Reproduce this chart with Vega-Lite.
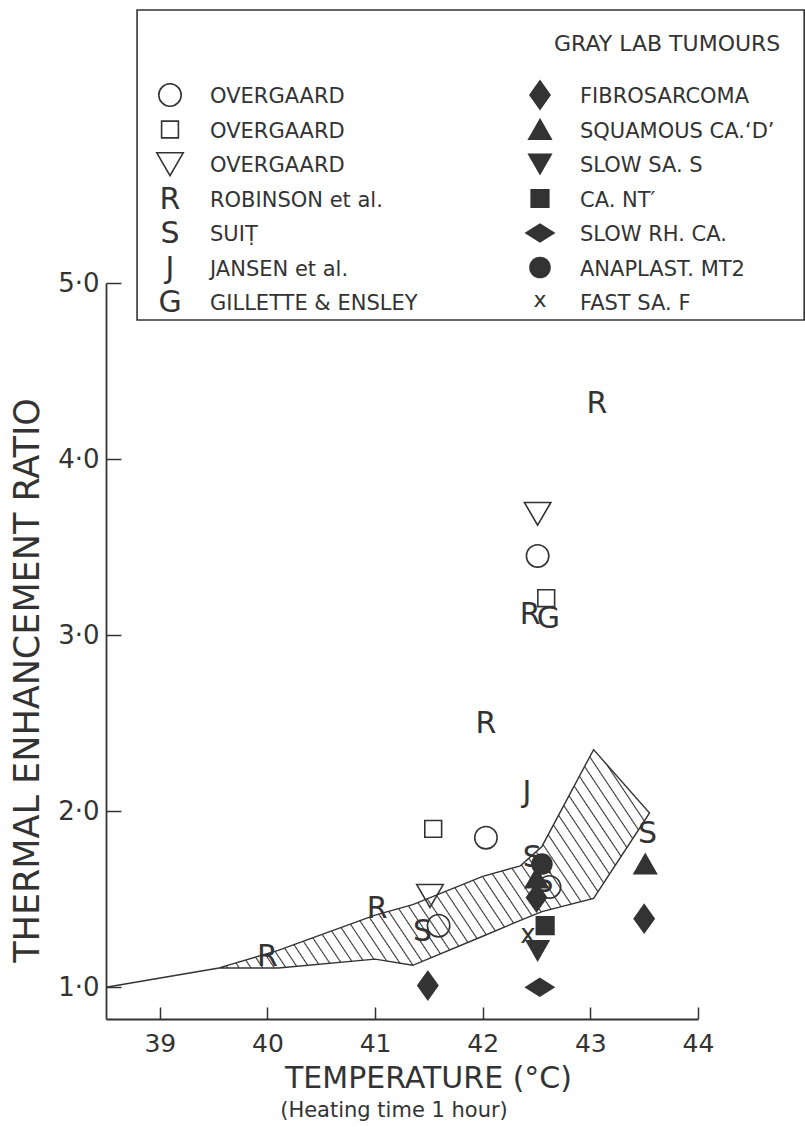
{
  "$schema": "https://vega.github.io/schema/vega-lite/v6.json",
  "width": 592,
  "height": 736,
  "autosize": {"type": "none"},
  "padding": {"left": 106, "top": 283, "right": 107, "bottom": 108},
  "background": "white",
  "config": {
    "view": {"stroke": null},
    "font": "DejaVu Sans",
    "axis": {
      "grid": false,
      "domainColor": "#333",
      "domainWidth": 1.8,
      "tickColor": "#333",
      "tickWidth": 1.5,
      "labelColor": "#333",
      "titleColor": "#333",
      "labelFont": "DejaVu Sans",
      "titleFont": "DejaVu Sans",
      "titleFontWeight": "normal",
      "labelFlush": false
    },
    "text": {"font": "DejaVu Sans", "color": "#333"}
  },
  "title": {
    "text": "(Heating time 1 hour)",
    "orient": "bottom",
    "anchor": "middle",
    "fontSize": 21,
    "fontWeight": "normal",
    "font": "DejaVu Sans",
    "color": "#333",
    "offset": 7,
    "dx": -8
  },
  "datasets": {
    "band": [
      {"t": 38.5, "lo": 1.0, "hi": 1.0},
      {"t": 39.55, "lo": 1.11, "hi": 1.11},
      {"t": 40.1, "lo": 1.11, "hi": 1.21},
      {"t": 41.0, "lo": 1.16, "hi": 1.41},
      {"t": 41.35, "lo": 1.125, "hi": 1.47},
      {"t": 42.0, "lo": 1.29, "hi": 1.63},
      {"t": 42.35, "lo": 1.38, "hi": 1.69},
      {"t": 42.55, "lo": 1.43, "hi": 1.8},
      {"t": 43.03, "lo": 1.505, "hi": 2.35},
      {"t": 43.55, "lo": 1.99, "hi": 1.99}
    ],
    "obs": [
      {"t": 42.51, "ter": 3.69, "marker": "ov_tri"},
      {"t": 41.51, "ter": 1.52, "marker": "ov_tri"},
      {"t": 42.51, "ter": 3.45, "marker": "ov_circle"},
      {"t": 42.03, "ter": 1.85, "marker": "ov_circle"},
      {"t": 41.59, "ter": 1.35, "marker": "ov_circle"},
      {"t": 42.62, "ter": 1.57, "marker": "ov_circle"},
      {"t": 42.59, "ter": 3.21, "marker": "ov_square"},
      {"t": 41.54, "ter": 1.9, "marker": "ov_square"},
      {"t": 40.0, "ter": 1.18, "marker": "R"},
      {"t": 41.02, "ter": 1.45, "marker": "R"},
      {"t": 42.03, "ter": 2.5, "marker": "R"},
      {"t": 42.44, "ter": 3.12, "marker": "R"},
      {"t": 43.06, "ter": 4.32, "marker": "R"},
      {"t": 41.44, "ter": 1.32, "marker": "S"},
      {"t": 42.46, "ter": 1.74, "marker": "S"},
      {"t": 42.57, "ter": 1.6, "marker": "S"},
      {"t": 43.53, "ter": 1.875, "marker": "S"},
      {"t": 42.41, "ter": 2.11, "marker": "J"},
      {"t": 42.61, "ter": 3.1, "marker": "G"},
      {"t": 41.49, "ter": 1.01, "marker": "fibro"},
      {"t": 42.5, "ter": 1.51, "marker": "fibro"},
      {"t": 43.5, "ter": 1.39, "marker": "fibro"},
      {"t": 43.51, "ter": 1.7, "marker": "squam"},
      {"t": 42.5, "ter": 1.62, "marker": "squam"},
      {"t": 42.51, "ter": 1.21, "marker": "slowsa"},
      {"t": 42.58, "ter": 1.35, "marker": "cant"},
      {"t": 42.53, "ter": 1.0, "marker": "slowrh"},
      {"t": 42.55, "ter": 1.7, "marker": "anaplast"},
      {"t": 42.42, "ter": 1.28, "marker": "x"}
    ],
    "legend": [
      {"col": 1, "row": 0, "marker": "header", "label": "GRAY LAB TUMOURS"},
      {"col": 0, "row": 1, "marker": "ov_circle", "label": "OVERGAARD"},
      {"col": 0, "row": 2, "marker": "ov_square", "label": "OVERGAARD"},
      {"col": 0, "row": 3, "marker": "ov_tri", "label": "OVERGAARD"},
      {"col": 0, "row": 4, "marker": "R", "label": "ROBINSON et al."},
      {"col": 0, "row": 5, "marker": "S", "label": "SUIṬ"},
      {"col": 0, "row": 6, "marker": "J", "label": "JANSEN et al."},
      {"col": 0, "row": 7, "marker": "G", "label": "GILLETTE & ENSLEY"},
      {"col": 1, "row": 1, "marker": "fibro", "label": "FIBROSARCOMA"},
      {"col": 1, "row": 2, "marker": "squam", "label": "SQUAMOUS CA.‘D’"},
      {"col": 1, "row": 3, "marker": "slowsa", "label": "SLOW SA. S"},
      {"col": 1, "row": 4, "marker": "cant", "label": "CA. NT′"},
      {"col": 1, "row": 5, "marker": "slowrh", "label": "SLOW RH. CA."},
      {"col": 1, "row": 6, "marker": "anaplast", "label": "ANAPLAST. MT2"},
      {"col": 1, "row": 7, "marker": "x", "label": "FAST SA. F"}
    ]
  },
  "layer": [
    {
      "layer": [
        {
          "data": {"name": "band"},
          "mark": {
            "type": "area",
            "interpolate": "linear",
            "stroke": "#333",
            "strokeWidth": 1.4,
            "fill": {
              "gradient": "linear",
              "x1": 0, "y1": 1, "x2": 1.19, "y2": 0.653,
              "stops": [
                {"offset": 0, "color": "white"},
                {"offset": 0.0065, "color": "white"}, {"offset": 0.0083, "color": "#333"}, {"offset": 0.0101, "color": "white"},
                {"offset": 0.0232, "color": "white"}, {"offset": 0.025, "color": "#333"}, {"offset": 0.0268, "color": "white"},
                {"offset": 0.0399, "color": "white"}, {"offset": 0.0417, "color": "#333"}, {"offset": 0.0435, "color": "white"},
                {"offset": 0.0565, "color": "white"}, {"offset": 0.0583, "color": "#333"}, {"offset": 0.0601, "color": "white"},
                {"offset": 0.0732, "color": "white"}, {"offset": 0.075, "color": "#333"}, {"offset": 0.0768, "color": "white"},
                {"offset": 0.0899, "color": "white"}, {"offset": 0.0917, "color": "#333"}, {"offset": 0.0935, "color": "white"},
                {"offset": 0.1065, "color": "white"}, {"offset": 0.1083, "color": "#333"}, {"offset": 0.1101, "color": "white"},
                {"offset": 0.1232, "color": "white"}, {"offset": 0.125, "color": "#333"}, {"offset": 0.1268, "color": "white"},
                {"offset": 0.1399, "color": "white"}, {"offset": 0.1417, "color": "#333"}, {"offset": 0.1435, "color": "white"},
                {"offset": 0.1565, "color": "white"}, {"offset": 0.1583, "color": "#333"}, {"offset": 0.1601, "color": "white"},
                {"offset": 0.1732, "color": "white"}, {"offset": 0.175, "color": "#333"}, {"offset": 0.1768, "color": "white"},
                {"offset": 0.1899, "color": "white"}, {"offset": 0.1917, "color": "#333"}, {"offset": 0.1935, "color": "white"},
                {"offset": 0.2065, "color": "white"}, {"offset": 0.2083, "color": "#333"}, {"offset": 0.2101, "color": "white"},
                {"offset": 0.2232, "color": "white"}, {"offset": 0.225, "color": "#333"}, {"offset": 0.2268, "color": "white"},
                {"offset": 0.2399, "color": "white"}, {"offset": 0.2417, "color": "#333"}, {"offset": 0.2435, "color": "white"},
                {"offset": 0.2565, "color": "white"}, {"offset": 0.2583, "color": "#333"}, {"offset": 0.2601, "color": "white"},
                {"offset": 0.2732, "color": "white"}, {"offset": 0.275, "color": "#333"}, {"offset": 0.2768, "color": "white"},
                {"offset": 0.2899, "color": "white"}, {"offset": 0.2917, "color": "#333"}, {"offset": 0.2935, "color": "white"},
                {"offset": 0.3065, "color": "white"}, {"offset": 0.3083, "color": "#333"}, {"offset": 0.3101, "color": "white"},
                {"offset": 0.3232, "color": "white"}, {"offset": 0.325, "color": "#333"}, {"offset": 0.3268, "color": "white"},
                {"offset": 0.3399, "color": "white"}, {"offset": 0.3417, "color": "#333"}, {"offset": 0.3435, "color": "white"},
                {"offset": 0.3565, "color": "white"}, {"offset": 0.3583, "color": "#333"}, {"offset": 0.3601, "color": "white"},
                {"offset": 0.3732, "color": "white"}, {"offset": 0.375, "color": "#333"}, {"offset": 0.3768, "color": "white"},
                {"offset": 0.3899, "color": "white"}, {"offset": 0.3917, "color": "#333"}, {"offset": 0.3935, "color": "white"},
                {"offset": 0.4065, "color": "white"}, {"offset": 0.4083, "color": "#333"}, {"offset": 0.4101, "color": "white"},
                {"offset": 0.4232, "color": "white"}, {"offset": 0.425, "color": "#333"}, {"offset": 0.4268, "color": "white"},
                {"offset": 0.4399, "color": "white"}, {"offset": 0.4417, "color": "#333"}, {"offset": 0.4435, "color": "white"},
                {"offset": 0.4565, "color": "white"}, {"offset": 0.4583, "color": "#333"}, {"offset": 0.4601, "color": "white"},
                {"offset": 0.4732, "color": "white"}, {"offset": 0.475, "color": "#333"}, {"offset": 0.4768, "color": "white"},
                {"offset": 0.4899, "color": "white"}, {"offset": 0.4917, "color": "#333"}, {"offset": 0.4935, "color": "white"},
                {"offset": 0.5065, "color": "white"}, {"offset": 0.5083, "color": "#333"}, {"offset": 0.5101, "color": "white"},
                {"offset": 0.5232, "color": "white"}, {"offset": 0.525, "color": "#333"}, {"offset": 0.5268, "color": "white"},
                {"offset": 0.5399, "color": "white"}, {"offset": 0.5417, "color": "#333"}, {"offset": 0.5435, "color": "white"},
                {"offset": 0.5565, "color": "white"}, {"offset": 0.5583, "color": "#333"}, {"offset": 0.5601, "color": "white"},
                {"offset": 0.5732, "color": "white"}, {"offset": 0.575, "color": "#333"}, {"offset": 0.5768, "color": "white"},
                {"offset": 0.5899, "color": "white"}, {"offset": 0.5917, "color": "#333"}, {"offset": 0.5935, "color": "white"},
                {"offset": 0.6065, "color": "white"}, {"offset": 0.6083, "color": "#333"}, {"offset": 0.6101, "color": "white"},
                {"offset": 0.6232, "color": "white"}, {"offset": 0.625, "color": "#333"}, {"offset": 0.6268, "color": "white"},
                {"offset": 0.6399, "color": "white"}, {"offset": 0.6417, "color": "#333"}, {"offset": 0.6435, "color": "white"},
                {"offset": 0.6565, "color": "white"}, {"offset": 0.6583, "color": "#333"}, {"offset": 0.6601, "color": "white"},
                {"offset": 0.6732, "color": "white"}, {"offset": 0.675, "color": "#333"}, {"offset": 0.6768, "color": "white"},
                {"offset": 0.6899, "color": "white"}, {"offset": 0.6917, "color": "#333"}, {"offset": 0.6935, "color": "white"},
                {"offset": 0.7065, "color": "white"}, {"offset": 0.7083, "color": "#333"}, {"offset": 0.7101, "color": "white"},
                {"offset": 0.7232, "color": "white"}, {"offset": 0.725, "color": "#333"}, {"offset": 0.7268, "color": "white"},
                {"offset": 0.7399, "color": "white"}, {"offset": 0.7417, "color": "#333"}, {"offset": 0.7435, "color": "white"},
                {"offset": 0.7565, "color": "white"}, {"offset": 0.7583, "color": "#333"}, {"offset": 0.7601, "color": "white"},
                {"offset": 0.7732, "color": "white"}, {"offset": 0.775, "color": "#333"}, {"offset": 0.7768, "color": "white"},
                {"offset": 0.7899, "color": "white"}, {"offset": 0.7917, "color": "#333"}, {"offset": 0.7935, "color": "white"},
                {"offset": 0.8065, "color": "white"}, {"offset": 0.8083, "color": "#333"}, {"offset": 0.8101, "color": "white"},
                {"offset": 0.8232, "color": "white"}, {"offset": 0.825, "color": "#333"}, {"offset": 0.8268, "color": "white"},
                {"offset": 0.8399, "color": "white"}, {"offset": 0.8417, "color": "#333"}, {"offset": 0.8435, "color": "white"},
                {"offset": 0.8565, "color": "white"}, {"offset": 0.8583, "color": "#333"}, {"offset": 0.8601, "color": "white"},
                {"offset": 0.8732, "color": "white"}, {"offset": 0.875, "color": "#333"}, {"offset": 0.8768, "color": "white"},
                {"offset": 0.8899, "color": "white"}, {"offset": 0.8917, "color": "#333"}, {"offset": 0.8935, "color": "white"},
                {"offset": 0.9065, "color": "white"}, {"offset": 0.9083, "color": "#333"}, {"offset": 0.9101, "color": "white"},
                {"offset": 0.9232, "color": "white"}, {"offset": 0.925, "color": "#333"}, {"offset": 0.9268, "color": "white"},
                {"offset": 0.9399, "color": "white"}, {"offset": 0.9417, "color": "#333"}, {"offset": 0.9435, "color": "white"},
                {"offset": 0.9565, "color": "white"}, {"offset": 0.9583, "color": "#333"}, {"offset": 0.9601, "color": "white"},
                {"offset": 0.9732, "color": "white"}, {"offset": 0.975, "color": "#333"}, {"offset": 0.9768, "color": "white"},
                {"offset": 0.9899, "color": "white"}, {"offset": 0.9917, "color": "#333"}, {"offset": 0.9935, "color": "white"},
                {"offset": 1, "color": "white"}
              ]
            }
          },
          "encoding": {
            "x": {
              "field": "t", "type": "quantitative",
              "scale": {"domain": [38.5, 44], "nice": false, "zero": false},
              "axis": {
                "values": [39, 40, 41, 42, 43, 44],
                "format": "d",
                "title": "TEMPERATURE (°C)",
                "tickSize": -12,
                "labelPadding": 24,
                "labelFontSize": 25,
                "titleFontSize": 30,
                "titlePadding": 7,
                "titleX": 322
              }
            },
            "y": {
              "field": "lo", "type": "quantitative",
              "scale": {"domain": [0.82, 5], "nice": false, "zero": false},
              "axis": {
                "values": [1, 2, 3, 4, 5],
                "labelExpr": "replace(format(datum.value, '.1f'), '.', '·')",
                "title": "THERMAL ENHANCEMENT RATIO",
                "tickSize": -15,
                "labelPadding": 22,
                "labelFontSize": 26,
                "titleFontSize": 35,
                "titlePadding": 12,
                "titleY": 397
              }
            },
            "y2": {"field": "hi"}
          }
        },
        {
          "data": {"name": "obs"},
          "transform": [{"filter": {"field": "marker", "oneOf": ["ov_circle", "ov_square", "ov_tri", "fibro", "squam", "slowsa", "cant", "slowrh", "anaplast"]}}],
          "mark": {"type": "point", "filled": true, "opacity": 1, "stroke": "#333", "strokeWidth": 1.6, "size": 1600},
          "encoding": {
            "x": {"field": "t", "type": "quantitative"},
            "y": {"field": "ter", "type": "quantitative"},
            "shape": {
              "field": "marker", "type": "nominal", "legend": null,
              "scale": {
                "domain": ["ov_circle", "ov_square", "ov_tri", "fibro", "squam", "slowsa", "cant", "slowrh", "anaplast"],
                "range": [
                  "M0.56,0A0.56,0.56,0,1,1,-0.56,0A0.56,0.56,0,1,1,0.56,0Z",
                  "M-0.42,-0.42L0.42,-0.42L0.42,0.42L-0.42,0.42Z",
                  "M-0.66,-0.56L0.66,-0.56L0,0.58Z",
                  "M0,-0.7L0.5,0L0,0.7L-0.5,0Z",
                  "M0,-0.5L0.56,0.48L-0.56,0.48Z",
                  "M-0.56,-0.48L0.56,-0.48L0,0.5Z",
                  "M-0.44,-0.44L0.44,-0.44L0.44,0.44L-0.44,0.44Z",
                  "M-0.7,0L0,-0.44L0.7,0L0,0.44Z",
                  "M0.5,0A0.5,0.5,0,1,1,-0.5,0A0.5,0.5,0,1,1,0.5,0Z"
                ]
              }
            },
            "fill": {
              "field": "marker", "type": "nominal", "legend": null,
              "scale": {
                "domain": ["ov_circle", "ov_square", "ov_tri", "fibro", "squam", "slowsa", "cant", "slowrh", "anaplast"],
                "range": ["transparent", "transparent", "transparent", "#333", "#333", "#333", "#333", "#333", "#333"]
              }
            }
          }
        },
        {
          "data": {"name": "obs"},
          "transform": [{"filter": {"field": "marker", "oneOf": ["R", "S", "J", "G"]}}],
          "mark": {"type": "text", "fontSize": 30, "baseline": "middle", "align": "center", "dy": 1},
          "encoding": {
            "x": {"field": "t", "type": "quantitative"},
            "y": {"field": "ter", "type": "quantitative"},
            "text": {"field": "marker"}
          }
        },
        {
          "data": {"name": "obs"},
          "transform": [{"filter": {"field": "marker", "equal": "x"}}],
          "mark": {"type": "text", "fontSize": 26, "baseline": "middle", "align": "center", "dy": -3},
          "encoding": {
            "x": {"field": "t", "type": "quantitative"},
            "y": {"field": "ter", "type": "quantitative"},
            "text": {"field": "marker"}
          }
        }
      ]
    },
    {
      "layer": [
        {
          "data": {"values": [{}]},
          "mark": {"type": "rect", "fill": "transparent", "stroke": "#333", "strokeWidth": 1.6},
          "encoding": {
            "x": {"datum": -0.089, "type": "quantitative", "scale": {"domain": [0, 1], "range": [64, 434], "zero": false, "nice": false}, "axis": null},
            "x2": {"datum": 1.714},
            "y": {"datum": -1.464, "type": "quantitative", "scale": {"domain": [1, 7], "range": [-188, 19], "zero": false, "nice": false}, "axis": null},
            "y2": {"datum": 7.52}
          }
        },
        {
          "data": {"name": "legend"},
          "transform": [{"filter": {"field": "marker", "oneOf": ["ov_circle", "ov_square", "ov_tri", "fibro", "squam", "slowsa", "cant", "slowrh", "anaplast"]}}],
          "mark": {"type": "point", "filled": true, "opacity": 1, "stroke": "#333", "strokeWidth": 1.6, "size": 1600},
          "encoding": {
            "x": {"field": "col", "type": "quantitative"},
            "y": {"field": "row", "type": "quantitative"},
            "shape": {
              "field": "marker", "type": "nominal", "legend": null,
              "scale": {
                "domain": ["ov_circle", "ov_square", "ov_tri", "fibro", "squam", "slowsa", "cant", "slowrh", "anaplast"],
                "range": [
                  "M0.56,0A0.56,0.56,0,1,1,-0.56,0A0.56,0.56,0,1,1,0.56,0Z",
                  "M-0.42,-0.42L0.42,-0.42L0.42,0.42L-0.42,0.42Z",
                  "M-0.66,-0.56L0.66,-0.56L0,0.58Z",
                  "M0,-0.7L0.5,0L0,0.7L-0.5,0Z",
                  "M0,-0.5L0.56,0.48L-0.56,0.48Z",
                  "M-0.56,-0.48L0.56,-0.48L0,0.5Z",
                  "M-0.44,-0.44L0.44,-0.44L0.44,0.44L-0.44,0.44Z",
                  "M-0.7,0L0,-0.44L0.7,0L0,0.44Z",
                  "M0.5,0A0.5,0.5,0,1,1,-0.5,0A0.5,0.5,0,1,1,0.5,0Z"
                ]
              }
            },
            "fill": {
              "field": "marker", "type": "nominal", "legend": null,
              "scale": {
                "domain": ["ov_circle", "ov_square", "ov_tri", "fibro", "squam", "slowsa", "cant", "slowrh", "anaplast"],
                "range": ["transparent", "transparent", "transparent", "#333", "#333", "#333", "#333", "#333", "#333"]
              }
            }
          }
        },
        {
          "data": {"name": "legend"},
          "transform": [{"filter": {"field": "marker", "oneOf": ["R", "S", "J", "G"]}}],
          "mark": {"type": "text", "fontSize": 30, "baseline": "middle", "align": "center", "dy": 1},
          "encoding": {
            "x": {"field": "col", "type": "quantitative"},
            "y": {"field": "row", "type": "quantitative"},
            "text": {"field": "marker"}
          }
        },
        {
          "data": {"name": "legend"},
          "transform": [{"filter": {"field": "marker", "equal": "x"}}],
          "mark": {"type": "text", "fontSize": 22, "baseline": "middle", "align": "center", "dy": -2},
          "encoding": {
            "x": {"field": "col", "type": "quantitative"},
            "y": {"field": "row", "type": "quantitative"},
            "text": {"field": "marker"}
          }
        },
        {
          "data": {"name": "legend"},
          "transform": [{"filter": {"not": {"field": "marker", "equal": "header"}}}],
          "mark": {"type": "text", "fontSize": 21, "baseline": "middle", "align": "left", "dx": 40, "dy": 2},
          "encoding": {
            "x": {"field": "col", "type": "quantitative"},
            "y": {"field": "row", "type": "quantitative"},
            "text": {"field": "label"}
          }
        },
        {
          "data": {"name": "legend"},
          "transform": [{"filter": {"field": "marker", "equal": "header"}}],
          "mark": {"type": "text", "fontSize": 22, "baseline": "middle", "align": "left", "dx": 14, "dy": -17},
          "encoding": {
            "x": {"field": "col", "type": "quantitative"},
            "y": {"field": "row", "type": "quantitative"},
            "text": {"field": "label"}
          }
        }
      ]
    }
  ],
  "resolve": {"scale": {"x": "independent", "y": "independent"}}
}
